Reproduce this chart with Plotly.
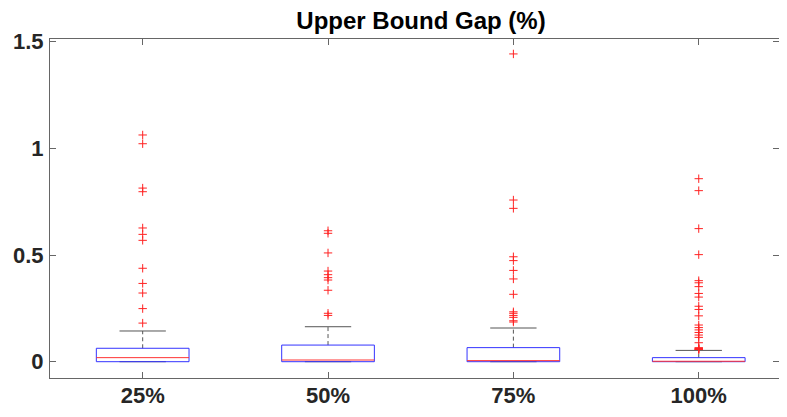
import plotly.graph_objects as go

categories = ["25%", "50%", "75%", "100%"]
q1 = [0.0, 0.0, 0.0, 0.0]
median = [0.019, 0.008, 0.005, 0.002]
q3 = [0.063, 0.078, 0.066, 0.019]
whisker_low = [0.0, 0.0, 0.0, 0.0]
whisker_high = [0.144, 0.164, 0.158, 0.053]
outliers_25 = [1.063, 1.022, 0.814, 0.797, 0.627, 0.597, 0.569, 0.438, 0.367, 0.322, 0.249, 0.181]
outliers_50 = [0.614, 0.602, 0.510, 0.425, 0.408, 0.394, 0.383, 0.335, 0.227, 0.217]
outliers_75 = [1.443, 0.758, 0.719, 0.492, 0.474, 0.428, 0.388, 0.316, 0.234, 0.227, 0.217,
               0.208, 0.192, 0.186]
outliers_100 = [0.858, 0.802, 0.624, 0.502, 0.380, 0.370, 0.352, 0.320, 0.303, 0.260, 0.245,
                0.215, 0.172, 0.160, 0.149, 0.137, 0.125, 0.114, 0.089, 0.066, 0.062, 0.060,
                0.058, 0.057]
outliers = [outliers_25, outliers_50, outliers_75, outliers_100]
y_ticks = [0, 0.5, 1, 1.5]
y_tick_labels = ["0", "0.5", "1", "1.5"]

positions = list(range(1, len(categories) + 1))
half_box = 0.25
half_cap = 0.125

box_x, box_y = [], []
med_x, med_y = [], []
wh_x, wh_y = [], []
cap_x, cap_y = [], []
out_x, out_y = [], []
for i, c in enumerate(positions):
    box_x += [c - half_box, c + half_box, c + half_box, c - half_box, c - half_box, None]
    box_y += [q1[i], q1[i], q3[i], q3[i], q1[i], None]
    med_x += [c - half_box, c + half_box, None]
    med_y += [median[i], median[i], None]
    wh_x += [c, c, None, c, c, None]
    wh_y += [q3[i], whisker_high[i], None, q1[i], whisker_low[i], None]
    cap_x += [c - half_cap, c + half_cap, None, c - half_cap, c + half_cap, None]
    cap_y += [whisker_high[i], whisker_high[i], None, whisker_low[i], whisker_low[i], None]
    out_x += [c] * len(outliers[i])
    out_y += outliers[i]

fig = go.Figure()
fig.add_trace(go.Scatter(x=wh_x, y=wh_y, mode="lines",
                         line=dict(color="#555555", width=1, dash="4px,3px"),
                         hoverinfo="skip", showlegend=False))
fig.add_trace(go.Scatter(x=cap_x, y=cap_y, mode="lines",
                         line=dict(color="#555555", width=1),
                         hoverinfo="skip", showlegend=False))
fig.add_trace(go.Scatter(x=box_x, y=box_y, mode="lines",
                         line=dict(color="#3333ff", width=1),
                         hoverinfo="skip", showlegend=False))
fig.add_trace(go.Scatter(x=med_x, y=med_y, mode="lines",
                         line=dict(color="#ff3333", width=1),
                         hoverinfo="skip", showlegend=False))
fig.add_trace(go.Scatter(x=out_x, y=out_y, mode="markers",
                         marker=dict(symbol="cross-thin", size=6,
                                     line=dict(color="#ff2222", width=1)),
                         showlegend=False))
# invisible trace to anchor right-hand mirror ticks
fig.add_trace(go.Scatter(x=[positions[0]], y=[y_ticks[0]], mode="markers",
                         marker=dict(opacity=0), yaxis="y2",
                         hoverinfo="skip", showlegend=False))

axis_color = "#666666"
tick_font = dict(family="Liberation Sans, Arial, sans-serif", size=22, color="#262626")

W, H = 771, 401
fig.update_layout(
    width=W, height=H,
    margin=dict(l=42, r=0, t=31, b=31),
    paper_bgcolor="white", plot_bgcolor="white",
    title=dict(text="<b>Upper Bound Gap (%)</b>", x=413 / W, xanchor="center",
               y=1 - 13 / H, yanchor="middle", yref="container",
               font=dict(family="Liberation Sans, Arial, sans-serif", size=24, color="#000000")),
    xaxis=dict(range=[0.5, 4.433], tickvals=positions,
               ticktext=["<b>%s</b>" % c for c in categories],
               ticks="inside", ticklen=6, tickcolor=axis_color, automargin=False,
               ticklabelstandoff=-2,
               showline=True, linecolor=axis_color, linewidth=1, mirror="ticks",
               showgrid=False, zeroline=False, tickfont=tick_font),
    yaxis=dict(range=[-0.0764, 1.513], tickvals=y_ticks,
               ticktext=["<b>%s</b>" % t for t in y_tick_labels],
               ticks="inside", ticklen=6, tickcolor=axis_color, automargin=False,
               ticklabelstandoff=1,
               showline=True, linecolor=axis_color, linewidth=1,
               showgrid=False, zeroline=False, tickfont=tick_font),
    yaxis2=dict(range=[-0.0764, 1.513], tickvals=y_ticks, overlaying="y", side="right",
                ticks="inside", ticklen=6, tickcolor=axis_color, showline=False,
                automargin=False,
                showticklabels=False, showgrid=False, zeroline=False),
)

fig.write_html("out.html")
